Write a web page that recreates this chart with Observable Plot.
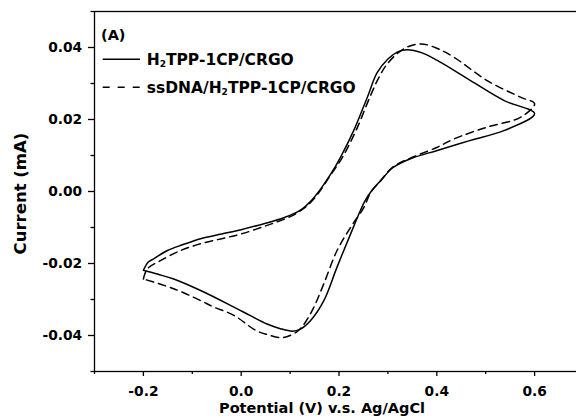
<!DOCTYPE html>
<html><head><meta charset="utf-8">
<script src="https://cdn.jsdelivr.net/npm/d3@7"></script>
<script src="https://cdn.jsdelivr.net/npm/@observablehq/plot@0.6"></script>
<style>
body{margin:0;background:#fff}
#wrap{position:relative;width:576px;height:418px;overflow:hidden}
#legend{position:absolute;left:0;top:0}
</style></head>
<body><div id="wrap"></div>
<script>
// Series: H2TPP-1CP/CRGO (solid), potential (V) and current (mA), in scan order
const solidV = [-0.200,-0.190,-0.179,-0.151,-0.120,-0.083,-0.040,0.000,0.050,0.087,0.121,0.142,0.163,0.183,0.203,0.230,0.258,0.278,0.300,0.320,0.339,0.370,0.401,0.469,0.537,0.600,
  0.537,0.469,0.401,0.346,0.310,0.285,0.268,0.254,0.244,0.224,0.196,0.169,0.142,0.120,0.105,0.080,0.053,0.019,-0.015,-0.083,-0.138,-0.170,-0.200];
const solidI = [-0.0219,-0.0196,-0.0187,-0.0164,-0.0148,-0.0131,-0.0118,-0.0106,-0.0088,-0.0073,-0.0052,-0.0027,0.0008,0.0048,0.0095,0.0169,0.0262,0.0330,0.0368,0.0388,0.0394,0.0385,0.0364,0.0308,0.0253,0.0216,
  0.0169,0.0142,0.0114,0.0091,0.0066,0.0030,0.0004,-0.0024,-0.0052,-0.0117,-0.0210,-0.0303,-0.0358,-0.0383,-0.0388,-0.0381,-0.0368,-0.0345,-0.0321,-0.0275,-0.0243,-0.0230,-0.0219];
// Series: ssDNA/H2TPP-1CP/CRGO (dashed)
const dashedV = [-0.200,-0.192,-0.165,-0.124,-0.083,-0.040,0.000,0.053,0.100,0.130,0.155,0.180,0.207,0.235,0.264,0.282,0.299,0.332,0.367,0.400,0.435,0.503,0.571,0.600,
  0.571,0.503,0.435,0.401,0.350,0.310,0.285,0.265,0.251,0.224,0.196,0.169,0.145,0.121,0.100,0.080,0.055,0.030,-0.015,-0.056,-0.083,-0.138,-0.200];
const dashedI = [-0.0243,-0.0215,-0.0192,-0.0164,-0.0145,-0.0131,-0.0118,-0.0094,-0.0070,-0.0045,-0.0010,0.0040,0.0095,0.0170,0.0265,0.0318,0.0355,0.0396,0.0410,0.0398,0.0373,0.0308,0.0262,0.0244,
  0.0206,0.0179,0.0146,0.0123,0.0095,0.0068,0.0030,-0.0002,-0.0044,-0.0099,-0.0164,-0.0256,-0.0331,-0.0381,-0.0400,-0.0406,-0.0398,-0.0386,-0.0344,-0.0321,-0.0303,-0.0270,-0.0243];

const xTicks = [-0.2, 0.0, 0.2, 0.4, 0.6];
const xMinor = [-0.3, -0.1, 0.1, 0.3, 0.5];
const yTicks = [-0.04, -0.02, 0.00, 0.02, 0.04];
const yMinor = [-0.05, -0.03, -0.01, 0.01, 0.03, 0.05];
const xTitle = "Potential (V) v.s. Ag/AgCl";
const yTitle = "Current (mA)";

const solidRows = solidV.map((v, i) => ({V: v, I: solidI[i]}));
const dashedRows = dashedV.map((v, i) => ({V: v, I: dashedI[i]}));

const chart = Plot.plot({
  width: 576, height: 418,
  marginLeft: 94, marginRight: -7, marginTop: 11, marginBottom: 47,
  x: {domain: [-0.3, 0.7]},
  y: {domain: [-0.05, 0.05]},
  style: {fontFamily: "'DejaVu Sans'", fontWeight: "bold", fontSize: "13.8px", background: "white", color: "black"},
  marks: [
    Plot.line(solidRows, {x: "V", y: "I", stroke: "black", strokeWidth: 1.5, curve: "catmull-rom"}),
    Plot.line(dashedRows, {x: "V", y: "I", stroke: "black", strokeWidth: 1.5, strokeDasharray: "7.5,5", curve: "catmull-rom"}),
    Plot.frame({stroke: "black", strokeWidth: 1.3}),
    Plot.axisX({ticks: xTicks, tickSize: 5, tickPadding: 9.5, tickFormat: d => d.toFixed(1), label: null, strokeWidth: 1.3}),
    Plot.axisX({ticks: xMinor, tickSize: 3, tickFormat: () => "", label: null, strokeWidth: 1.3}),
    Plot.axisY({ticks: yTicks, tickSize: 6, tickPadding: 6.3, tickFormat: d => d.toFixed(2), label: null, strokeWidth: 1.3}),
    Plot.axisY({ticks: yMinor, tickSize: 3.5, tickFormat: () => "", label: null, strokeWidth: 1.3}),
    Plot.text([xTitle], {text: d => d, frameAnchor: "bottom", lineAnchor: "middle", textAnchor: "middle", dx: -17, dy: 37, fontSize: 14.5, fill: "black"}),
    Plot.text([yTitle], {text: d => d, frameAnchor: "left", lineAnchor: "middle", textAnchor: "middle", dx: -74, dy: 2, rotate: -90, fontSize: 16.5, fill: "black"})
  ]
});
const wrap = document.getElementById("wrap");
wrap.appendChild(chart);

// Legend overlay
const ns = "http://www.w3.org/2000/svg";
const leg = document.createElementNS(ns, "svg");
leg.setAttribute("id", "legend");
leg.setAttribute("width", 576);
leg.setAttribute("height", 418);
leg.innerHTML = `
<g font-family="'DejaVu Sans'" font-weight="bold" fill="black">
  <text x="101" y="39.5" font-size="14.5">(A)</text>
  <line x1="102.7" x2="140" y1="59.3" y2="59.3" stroke="black" stroke-width="1.5"/>
  <text x="146.7" y="65" font-size="15.5">H<tspan font-size="9" dy="2">2</tspan><tspan dy="-2">TPP-1CP/CRGO</tspan></text>
  <line x1="102.7" x2="140" y1="87.3" y2="87.3" stroke="black" stroke-width="1.5" stroke-dasharray="7,8"/>
  <text x="146.7" y="93.3" font-size="15.5">ssDNA/H<tspan font-size="9" dy="2">2</tspan><tspan dy="-2">TPP-1CP/CRGO</tspan></text>
</g>`;
wrap.appendChild(leg);
</script>
</body></html>
